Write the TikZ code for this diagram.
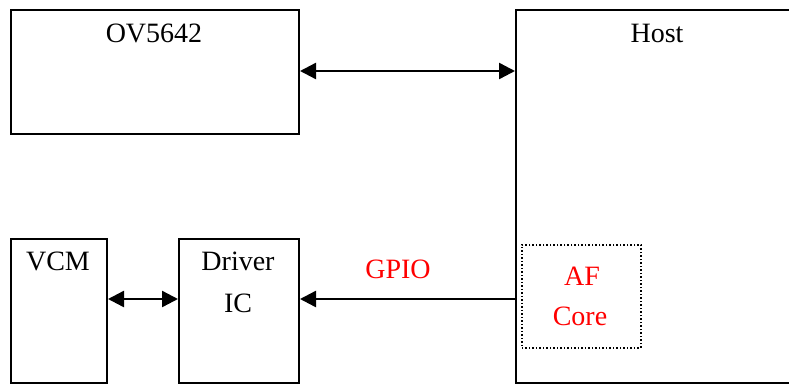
\documentclass[tikz,border=0pt]{standalone}
\usepackage{fontspec}
\setmainfont{Liberation Serif}
\usetikzlibrary{arrows.meta}
\begin{document}
\begin{tikzpicture}[x=1pt,y=-1pt,
  box/.style={draw=black,line width=2pt,rectangle,inner sep=0pt,anchor=north west},
  txt/.style={anchor=base,inner sep=0pt,font=\fontsize{28}{32}\selectfont},
  redtxt/.style={txt,text=red},
  conn/.style={line width=2.4pt,-{Triangle[length=16pt,width=16pt]}},
  biconn/.style={line width=2.4pt,{Triangle[length=16pt,width=16pt]}-{Triangle[length=16pt,width=16pt]}}]
\useasboundingbox (0,0) rectangle (789,383);
\clip (0,0) rectangle (789,383);
% boxes
\node[box,minimum width=288pt,minimum height=124pt] (ov) at (10,9) {};
\node[box,minimum width=300pt,minimum height=373pt] (host) at (515,9) {};
\node[box,minimum width=96pt,minimum height=144pt] (vcm) at (10,238) {};
\node[box,minimum width=120pt,minimum height=144pt] (drv) at (178,238) {};
\node[draw=black,line width=1.5pt,dotted,rectangle,inner sep=0pt,anchor=north west,
  minimum width=119pt,minimum height=103pt] (af) at (521,244) {};
% texts
\node[txt] (tov) at (154,42) {OV5642};
\node[txt] (thost) at (657,42) {Host};
\node[txt] (tvcm) at (58,270) {VCM};
\node[txt] (tdrv) at (238,270) {Driver};
\node[txt] (tic) at (238,312) {IC};
\node[redtxt] (tgpio) at (398,278) {GPIO};
\node[redtxt] (taf) at (582,285) {AF};
\node[redtxt] (tcore) at (580,325) {Core};
% connectors
\coordinate (ovr) at (ov.east |- 0,71);
\coordinate (hostl) at (host.west |- 0,71);
\draw[biconn] (ovr) -- (hostl);
\coordinate (vcmr) at (vcm.east |- 0,299);
\coordinate (drvl) at (drv.west |- 0,299);
\draw[biconn] (vcmr) -- (drvl);
\coordinate (hostl2) at (host.west |- 0,299);
\coordinate (drvr) at (drv.east |- 0,299);
\draw[conn] (hostl2) -- (drvr);
\end{tikzpicture}
\end{document}
